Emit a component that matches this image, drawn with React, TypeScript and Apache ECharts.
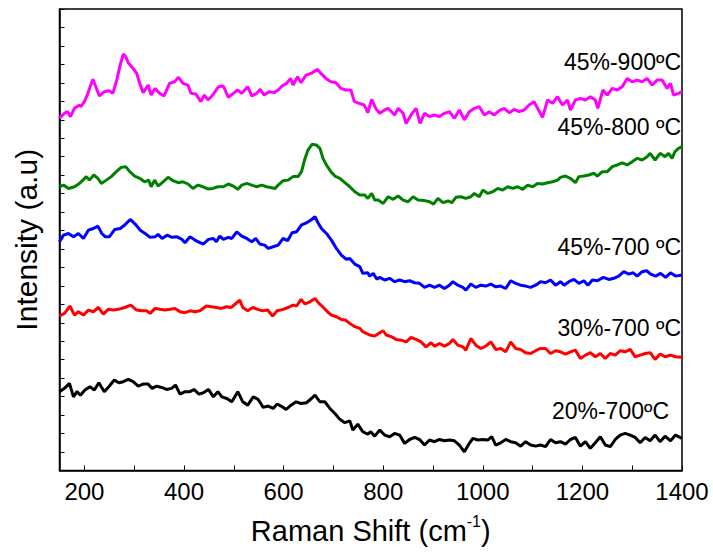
import React, { useEffect, useRef } from "react";
import * as echarts from "echarts";

// Raman shift (cm-1) vs intensity (a.u., stacked offsets as in the figure)
const s45_900: [number, number][] = [
  [150,19.08],[160,19.35],[166,19.44],[172,19.17],[180,19.62],[190,19.80],[193,19.71],[200,19.98],[207,20.43],[217,21.19],[223,20.79],[230,20.29],[240,20.52],[250,20.57],[257,20.43],[265,21.15],[271,21.88],[278,22.56],[283,22.42],[288,22.09],[298,21.78],[305,21.51],[311,20.97],[318,20.47],[328,20.88],[334,20.34],[342,20.70],[351,20.43],[360,20.29],[371,20.97],[381,21.06],[389,21.30],[398,20.97],[408,20.88],[414,20.43],[424,20.39],[434,19.98],[441,20.34],[448,20.07],[458,20.34],[469,20.79],[479,20.83],[489,20.21],[499,20.43],[508,20.61],[516,20.43],[528,20.79],[536,20.29],[546,20.43],[553,20.65],[561,20.34],[571,20.52],[581,20.47],[589,20.61],[597,20.83],[606,20.97],[614,21.24],[619,20.88],[628,21.33],[635,21.01],[645,21.42],[655,21.51],[668,21.73],[675,21.51],[685,21.24],[695,21.06],[705,21.01],[715,20.70],[725,20.61],[735,20.61],[742,19.98],[752,19.89],[762,19.80],[769,19.38],[777,20.11],[785,19.62],[793,19.35],[803,19.53],[810,19.62],[823,19.26],[830,19.62],[840,19.35],[846,18.80],[856,19.26],[866,19.62],[874,18.80],[883,19.35],[893,19.17],[903,19.26],[913,19.17],[923,19.35],[933,19.44],[943,19.08],[953,19.53],[963,18.99],[973,19.44],[983,19.62],[993,19.71],[1003,19.26],[1013,19.44],[1023,19.26],[1033,19.49],[1043,19.62],[1053,19.38],[1063,19.56],[1073,19.44],[1083,19.53],[1093,19.80],[1103,19.98],[1110,19.62],[1120,19.13],[1130,20.07],[1140,19.89],[1150,20.25],[1160,19.80],[1170,20.07],[1176,19.53],[1186,20.07],[1196,20.16],[1206,20.07],[1216,20.25],[1226,20.07],[1231,19.62],[1241,20.61],[1250,20.34],[1260,20.70],[1270,20.61],[1280,20.79],[1290,21.24],[1300,21.06],[1310,21.15],[1320,21.06],[1330,21.24],[1340,20.88],[1350,21.15],[1360,21.15],[1370,20.70],[1377,20.97],[1383,20.34],[1393,20.43],[1400,20.52]
];

const s45_800: [number, number][] = [
  [150,15.37],[158,15.46],[168,15.28],[180,15.37],[190,15.55],[197,15.73],[204,15.92],[210,15.73],[219,16.01],[227,15.83],[234,15.55],[244,15.73],[254,15.92],[264,16.19],[274,16.42],[283,16.46],[291,16.19],[301,15.95],[311,15.83],[321,15.64],[329,15.73],[334,15.37],[341,15.73],[348,15.41],[358,15.64],[368,15.88],[378,15.70],[388,15.59],[398,15.64],[408,15.52],[418,15.28],[428,15.46],[438,15.37],[448,15.25],[458,15.28],[468,15.37],[479,15.37],[489,15.52],[499,15.41],[508,15.23],[516,15.46],[526,15.55],[536,15.46],[546,15.37],[556,15.46],[566,15.37],[576,15.32],[583,15.28],[589,15.46],[599,15.70],[609,15.73],[619,15.92],[629,15.92],[636,16.19],[642,16.82],[649,17.36],[657,17.67],[666,17.63],[673,17.45],[679,16.91],[686,16.55],[695,16.19],[703,15.95],[713,15.83],[723,15.59],[733,15.37],[743,15.10],[753,14.92],[763,14.92],[769,14.74],[777,15.01],[783,14.65],[790,14.65],[800,14.47],[810,14.83],[820,14.69],[830,14.87],[840,14.65],[850,14.56],[860,14.83],[870,14.65],[883,14.62],[893,14.56],[901,14.43],[910,14.74],[920,14.51],[930,14.60],[938,14.51],[946,14.80],[956,14.83],[966,14.74],[976,14.83],[983,15.01],[993,14.83],[1000,15.19],[1010,15.01],[1020,15.10],[1030,15.28],[1040,15.19],[1050,15.37],[1060,15.28],[1070,15.37],[1080,15.23],[1090,15.46],[1100,15.37],[1110,15.55],[1120,15.52],[1130,15.59],[1140,15.64],[1150,15.73],[1156,15.88],[1166,15.95],[1176,15.83],[1186,15.59],[1193,15.92],[1203,15.95],[1213,16.01],[1223,16.10],[1230,15.95],[1240,16.19],[1250,16.19],[1260,16.46],[1270,16.55],[1280,16.67],[1290,16.55],[1300,16.73],[1310,16.91],[1320,16.82],[1330,17.00],[1336,17.18],[1346,16.82],[1356,17.18],[1366,17.00],[1373,17.18],[1380,16.91],[1386,17.27],[1393,17.45],[1400,17.54]
];

const s45_700: [number, number][] = [
  [150,12.39],[158,12.75],[168,12.84],[178,12.66],[188,12.84],[198,12.57],[208,13.02],[218,13.11],[227,13.24],[235,12.84],[242,12.66],[250,12.66],[261,13.06],[272,13.11],[281,13.30],[292,13.60],[302,13.35],[312,13.02],[322,12.84],[332,12.63],[342,12.66],[348,12.79],[356,12.57],[366,12.75],[376,12.63],[386,12.66],[396,12.52],[402,12.34],[412,12.66],[422,12.48],[432,12.34],[439,12.27],[449,12.52],[459,12.57],[465,12.39],[472,12.70],[479,12.52],[489,12.63],[496,12.57],[506,12.93],[516,12.70],[526,12.57],[536,12.39],[544,12.57],[552,12.27],[562,12.21],[569,12.03],[579,12.12],[589,12.21],[599,12.57],[608,12.45],[617,12.88],[626,12.93],[636,13.30],[646,13.42],[655,13.57],[663,13.75],[669,13.42],[676,13.11],[686,12.84],[696,12.48],[706,12.03],[716,11.67],[726,11.44],[733,11.49],[743,11.18],[753,11.04],[759,10.68],[769,10.71],[773,10.53],[780,10.68],[787,10.37],[793,10.46],[803,10.32],[813,10.41],[823,10.23],[833,10.32],[843,10.23],[853,10.28],[863,10.17],[873,10.14],[883,9.92],[893,10.04],[903,9.92],[913,10.04],[923,9.86],[933,10.04],[940,10.23],[950,10.04],[960,9.92],[966,9.77],[976,10.10],[986,9.92],[996,10.04],[1006,9.99],[1016,10.10],[1026,9.95],[1036,9.99],[1046,9.86],[1056,10.28],[1066,10.14],[1076,10.04],[1086,9.99],[1096,9.92],[1106,10.04],[1116,10.23],[1126,10.17],[1136,10.32],[1146,10.04],[1156,10.23],[1163,10.04],[1173,10.23],[1183,10.35],[1193,10.14],[1203,10.28],[1211,10.04],[1220,10.32],[1230,10.28],[1242,10.46],[1253,10.35],[1263,10.41],[1273,10.53],[1283,10.77],[1293,10.64],[1302,10.71],[1310,10.53],[1320,10.77],[1329,10.82],[1337,10.64],[1347,10.53],[1357,10.68],[1367,10.46],[1377,10.71],[1387,10.53],[1400,10.59]
];

const s30_700: [number, number][] = [
  [150,8.37],[160,8.51],[171,8.91],[180,8.42],[188,8.60],[198,8.42],[208,8.69],[218,8.60],[228,8.83],[238,8.47],[248,8.73],[258,8.69],[268,8.73],[281,8.83],[293,8.96],[305,8.69],[315,8.65],[325,8.65],[332,8.51],[342,8.78],[352,8.73],[362,8.69],[372,8.73],[382,8.78],[392,8.60],[402,8.55],[412,8.65],[422,8.60],[432,8.65],[445,8.91],[455,8.87],[465,8.83],[475,8.78],[485,8.87],[495,8.83],[503,9.02],[512,9.23],[518,8.83],[528,8.65],[538,8.83],[548,8.73],[558,8.65],[568,8.69],[578,8.37],[587,8.65],[599,8.73],[609,8.83],[619,8.96],[626,8.91],[635,9.27],[643,9.02],[653,9.14],[663,9.32],[671,9.05],[680,8.83],[688,8.60],[696,8.42],[706,8.33],[716,8.18],[724,8.15],[733,7.97],[743,7.79],[753,7.70],[759,7.52],[766,7.43],[773,7.34],[783,7.28],[793,7.46],[800,7.57],[806,7.34],[816,7.25],[826,7.10],[836,7.06],[846,6.97],[856,7.21],[866,7.10],[876,6.97],[886,6.70],[896,6.92],[903,6.74],[913,6.88],[923,6.74],[933,6.88],[940,7.10],[950,6.79],[960,6.70],[966,6.52],[976,7.15],[986,6.79],[996,6.61],[1006,6.74],[1016,6.97],[1026,6.56],[1036,6.61],[1046,6.43],[1056,6.97],[1066,6.61],[1076,6.56],[1086,6.38],[1096,6.34],[1106,6.49],[1116,6.61],[1126,6.61],[1136,6.34],[1146,6.49],[1156,6.43],[1166,6.31],[1176,6.43],[1186,6.52],[1196,6.07],[1206,6.25],[1216,6.38],[1226,6.16],[1236,6.34],[1246,6.07],[1256,6.34],[1266,6.25],[1276,6.49],[1286,6.43],[1296,6.56],[1306,6.16],[1316,6.25],[1326,6.34],[1336,6.38],[1346,6.02],[1356,6.31],[1366,6.16],[1377,6.25],[1387,6.16],[1400,6.13]
];

const s20_700: [number, number][] = [
  [150,4.27],[160,4.45],[170,4.72],[178,3.99],[185,4.27],[192,4.08],[201,4.36],[211,4.54],[220,4.36],[229,4.75],[240,4.27],[249,4.54],[260,4.90],[269,4.75],[278,4.81],[288,4.93],[298,4.81],[308,4.57],[318,4.68],[328,4.68],[336,4.45],[345,4.57],[355,4.50],[365,4.39],[375,4.45],[383,4.63],[392,4.14],[402,4.27],[412,4.27],[420,4.39],[430,4.14],[439,4.21],[449,4.39],[459,3.99],[468,4.27],[476,3.99],[486,3.90],[496,3.72],[508,4.27],[518,3.72],[528,3.54],[539,3.99],[549,3.85],[559,3.42],[569,3.49],[579,3.36],[587,3.60],[595,3.49],[605,3.31],[615,3.54],[625,3.72],[635,3.63],[646,3.67],[656,3.90],[663,4.08],[673,3.72],[683,3.72],[693,3.36],[703,3.09],[713,2.77],[723,2.59],[733,2.69],[739,2.19],[749,2.51],[759,2.10],[769,1.97],[775,2.10],[783,1.86],[793,2.19],[803,1.92],[813,1.83],[823,2.01],[833,1.92],[843,1.47],[853,1.68],[863,1.79],[873,1.68],[883,1.38],[893,1.65],[903,1.56],[913,1.68],[923,1.61],[933,1.65],[943,1.61],[953,1.38],[963,1.01],[973,1.47],[980,1.74],[990,1.65],[1000,1.68],[1010,1.65],[1018,1.83],[1026,1.38],[1036,1.50],[1046,1.68],[1056,1.56],[1066,1.50],[1076,1.32],[1086,1.56],[1096,1.38],[1106,1.32],[1116,1.38],[1126,1.29],[1136,1.68],[1146,1.50],[1156,1.56],[1166,1.43],[1176,1.68],[1186,1.79],[1196,1.32],[1206,1.56],[1216,1.20],[1226,1.50],[1236,1.83],[1246,1.38],[1256,1.29],[1266,1.68],[1276,1.92],[1286,2.01],[1296,1.92],[1306,1.79],[1316,1.50],[1326,1.79],[1336,1.61],[1346,1.92],[1356,1.56],[1366,1.86],[1377,1.61],[1387,1.92],[1400,1.74]
];

const seriesNames = ["45%-900ºC", "45%-800 ºC", "45%-700 ºC", "30%-700 ºC", "20%-700ºC"];
const seriesColors = ["#FF00FF", "#008000", "#0000FF", "#FF0000", "#000000"];
const seriesData = [s45_900, s45_800, s45_700, s30_700, s20_700];

const xTickValues = [200, 300, 400, 500, 600, 700, 800, 900, 1000, 1100, 1200, 1300, 1400];
const xLabelValues = [200, 400, 600, 800, 1000, 1200, 1400];

const FONT = "'Liberation Sans', Arial, Helvetica, sans-serif";

// label anchor (right edge x, vertical centre y) in pixels
const labelAnchors = [
  [681, 62],
  [681, 127],
  [681, 247],
  [681, 328],
  [669, 411],
];

export default function App() {
  const ref = useRef<HTMLDivElement>(null);
  useEffect(() => {
    if (!ref.current) return;
    const chart = echarts.init(ref.current, null, { renderer: "svg" });
    chart.setOption({
      animation: false,
      backgroundColor: "#ffffff",
      grid: {
        left: 59.5,
        right: 31,
        top: 9,
        bottom: 81.5,
        show: true,
        borderColor: "#000",
        borderWidth: 1.5,
        backgroundColor: "transparent",
      },
      xAxis: {
        type: "value",
        min: 150,
        max: 1400,
        axisLine: { show: true, lineStyle: { color: "#000", width: 1.5 } },
        axisTick: {
          show: true,
          inside: true,
          length: 5,
          customValues: xTickValues,
          lineStyle: { color: "#000", width: 1 },
        },
        axisLabel: {
          customValues: xLabelValues,
          formatter: (v: number) => String(v),
          fontSize: 24,
          color: "#000",
          margin: 9,
          fontFamily: FONT,
        },
        splitLine: { show: false },
        name: "{a|Raman Shift (cm}{b|-1}{a|)}",
        nameLocation: "middle",
        nameGap: 43,
        nameTextStyle: {
          rich: {
            a: { fontSize: 29, fontFamily: FONT, color: "#000", lineHeight: 34 },
            b: { fontSize: 16, fontFamily: FONT, color: "#000", verticalAlign: "top", lineHeight: 34 },
          },
        },
      },
      yAxis: {
        type: "value",
        min: 0,
        max: 25,
        interval: 1,
        axisLine: { show: true, lineStyle: { color: "#000", width: 1.5 } },
        axisTick: { show: true, inside: true, length: 5, lineStyle: { color: "#000", width: 1 } },
        axisLabel: { show: false },
        splitLine: { show: false },
        name: "Intensity (a.u)",
        nameLocation: "middle",
        nameGap: 18,
        nameTextStyle: { fontSize: 30, fontFamily: FONT, color: "#000" },
      },
      series: seriesData.map((d, i) => ({
        type: "line",
        name: seriesNames[i],
        data: d,
        showSymbol: false,
        symbol: "none",
        lineStyle: { color: seriesColors[i], width: 3 },
        itemStyle: { color: seriesColors[i] },
        z: 3,
      })),
      graphic: seriesNames.map((t, i) => ({
        type: "text",
        x: labelAnchors[i][0],
        y: labelAnchors[i][1],
        style: {
          text: t,
          fontSize: 23,
          fontFamily: FONT,
          fill: "#000",
          align: "right",
          verticalAlign: "middle",
        },
        z: 10,
      })),
    });
    return () => chart.dispose();
  }, []);
  return (
    <div
      ref={ref}
      style={{ position: "fixed", left: 0, top: 0, width: 713, height: 552, background: "#fff" }}
    />
  );
}
